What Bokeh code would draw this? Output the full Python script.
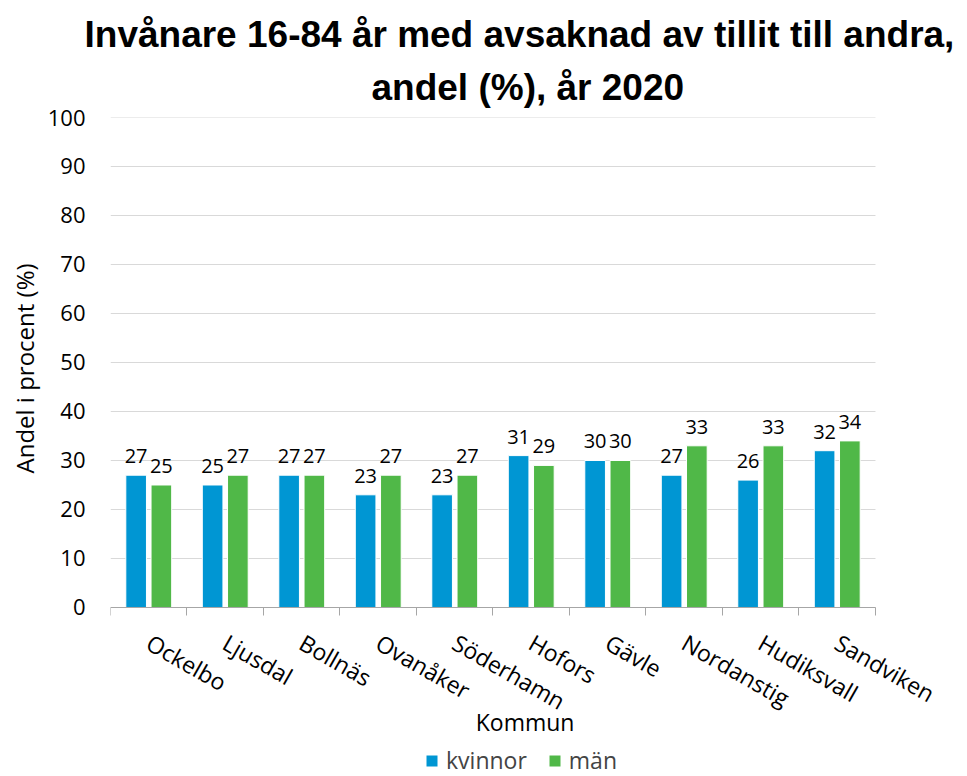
import numpy as np
from bokeh.plotting import figure
from bokeh.models import (ColumnDataSource, FixedTicker, Legend, LegendItem,
                          Title, Range1d, LabelSet, Label, LinearAxis)
from bokeh.core.properties import value
from bokeh.embed import file_html
from bokeh.resources import INLINE

# ---- data ----
kommuner = ["Ockelbo", "Ljusdal", "Bollnäs", "Ovanåker", "Söderhamn",
            "Hofors", "Gävle", "Nordanstig", "Hudiksvall", "Sandviken"]
kvinnor = [27, 25, 27, 23, 23, 31, 30, 27, 26, 32]
man = [25, 27, 27, 27, 27, 29, 30, 33, 33, 34]
y_ticks = [0, 10, 20, 30, 40, 50, 60, 70, 80, 90, 100]

title_line1 = "Invånare 16-84 år med avsaknad av tillit till andra,"
title_line2 = "andel (%), år 2020"
y_title = "Andel i procent (%)"
x_title = "Kommun"
series_names = ["kvinnor", "män"]

BLUE = "#0096D3"
GREEN = "#50B848"
FONT = "Open Sans"

n = len(kommuner)
centers = np.arange(n) + 0.5
off = 0.165
bw = 0.27

src_k = ColumnDataSource(dict(x=centers - off, top=kvinnor, label=[str(v) for v in kvinnor]))
src_m = ColumnDataSource(dict(x=centers + off, top=man, label=[str(v) for v in man]))
src_grid = ColumnDataSource(dict(x0=[0] * len(y_ticks), x1=[n] * len(y_ticks),
                                 y=y_ticks))

# frame runs to the bottom of the page and a little past the last category,
# so that the rotated category labels and legend are not clipped
p = figure(width=959, height=776, output_backend="svg", toolbar_location=None,
           x_range=Range1d(0, n + 0.85), y_range=Range1d(-34.49, 100),
           x_axis_type=None,
           min_border_left=110, min_border_right=19, min_border_top=117,
           min_border_bottom=0)
p.outline_line_color = None
p.background_fill_color = "white"
p.border_fill_color = "white"

# horizontal grid lines over the category span only
p.xgrid.visible = False
p.ygrid.visible = False
p.segment(x0="x0", x1="x1", y0="y", y1="y", source=src_grid,
          line_color="#D9D9D9", line_width=1)

r1 = p.vbar(x="x", top="top", width=bw, source=src_k, fill_color=BLUE,
            line_color="white", line_width=1)
r2 = p.vbar(x="x", top="top", width=bw, source=src_m, fill_color=GREEN,
            line_color="white", line_width=1)

for src in (src_k, src_m):
    p.add_layout(LabelSet(x="x", y="top", text="label", source=src,
                          text_align="center", text_baseline="alphabetic",
                          y_offset=12, text_font=value(FONT),
                          text_font_size=value("20px"), text_color="black"))

# y axis
p.yaxis.ticker = FixedTicker(ticks=y_ticks)
p.yaxis.axis_line_color = None
p.yaxis.major_tick_line_color = None
p.yaxis.minor_tick_line_color = None
p.yaxis.major_label_standoff = 19
p.yaxis.major_label_text_font = FONT
p.yaxis.major_label_text_font_size = "22px"
p.yaxis.major_label_text_color = "black"

p.add_layout(Title(text=y_title, align="left", offset=303, text_font=FONT,
                   text_font_size="24px", text_font_style="normal",
                   text_color="black", standoff=7), "left")

# x axis pinned at value 0
xaxis = LinearAxis(fixed_location=0, bounds=(0, n),
                   ticker=FixedTicker(ticks=list(centers), minor_ticks=list(range(n + 1))),
                   major_label_overrides={float(c): k for c, k in zip(centers, kommuner)})
xaxis.major_tick_line_color = None
xaxis.minor_tick_line_color = "#A6A6A6"
xaxis.minor_tick_in = 0
xaxis.minor_tick_out = 8
xaxis.axis_line_color = "#A6A6A6"
xaxis.major_label_orientation = -0.52
xaxis.major_label_standoff = 25
xaxis.major_label_text_font = FONT
xaxis.major_label_text_font_size = "23px"
xaxis.major_label_text_color = "black"
p.add_layout(xaxis, "below")

p.add_layout(Label(x=5.42, y=-23.3, text=x_title, text_align="center",
                   text_baseline="middle", text_font=FONT,
                   text_font_size="23px", text_color="black"))

legend = Legend(items=[LegendItem(label=series_names[0], renderers=[r1]),
                       LegendItem(label=series_names[1], renderers=[r2])],
                orientation="horizontal", location=(314, 0),
                glyph_width=15, glyph_height=15, spacing=20,
                label_text_font=FONT, label_text_font_size="23px",
                label_standoff=7, border_line_color=None, padding=0,
                margin=0, background_fill_alpha=0)
p.add_layout(legend)

p.title = Title(text=title_line1, align="left", offset=-26,
                text_font="Liberation Sans", text_font_size="37px",
                text_font_style="bold", text_color="black", standoff=0)
p.add_layout(Title(text=title_line2, align="left", offset=261,
                   text_font="Liberation Sans", text_font_size="37px",
                   text_font_style="bold", text_color="black", standoff=20), "above")

open("out.html", "w").write(file_html(p, INLINE))
